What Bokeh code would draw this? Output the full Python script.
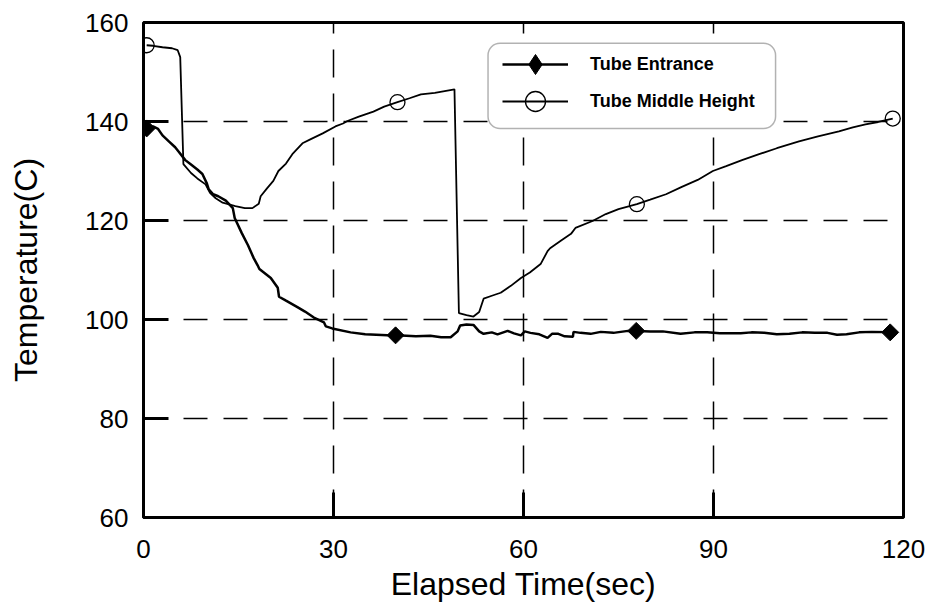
import numpy as np
from bokeh.plotting import figure
from bokeh.models import Legend, LegendItem, BoxAnnotation, Range1d, FixedTicker
from bokeh.embed import file_html
from bokeh.resources import INLINE

# ---------------- data ----------------
x_ticks = [0, 30, 60, 90, 120]
y_ticks = [60, 80, 100, 120, 140, 160]

entrance_t = [0.5, 1.5, 2.3, 3.0, 4.0, 5.0, 5.5, 6.6, 7.5, 8.5, 9.3, 10.0, 10.3, 11.0, 11.8,
              13.0, 14.1, 14.4, 15.5, 16.5, 17.4, 18.0, 18.3, 19.0, 20.1, 21.2, 21.4, 22.5,
              24.3, 25.5, 26.9, 28.5, 28.8, 29.8, 32.7, 35.0, 38.5, 40.0, 43.0, 45.3, 47.0,
              48.5, 49.6, 50.0, 51.0, 52.1, 53.0, 53.7, 55.0, 55.9, 57.5, 58.5, 59.6, 60.2,
              61.1, 62.5, 63.8, 64.5, 65.5, 66.5, 67.8, 67.9, 69.0, 70.6, 72.2, 74.2, 76.5,
              78.0, 80.0, 82.0, 84.8, 87.0, 89.0, 91.0, 94.3, 96.0, 98.0, 100.0, 102.0,
              104.0, 106.0, 108.0, 109.5, 111.0, 113.0, 115.0, 118.0]
entrance_T = [138.6, 139.0, 138.5, 137.2, 136.0, 134.8, 134.0, 132.2, 131.3, 130.3, 129.4, 127.5,
              126.3, 125.3, 124.9, 124.0, 122.5, 120.5, 117.5, 115.0, 112.4, 111.0, 110.2, 109.5,
              108.4, 106.4, 104.6, 103.8, 102.5, 101.6, 100.4, 99.4, 98.6, 98.2, 97.4, 97.0,
              96.8, 96.8, 96.6, 96.7, 96.4, 96.4, 97.6, 98.8, 99.0, 98.9, 97.6, 97.1, 97.4,
              97.0, 97.7, 97.2, 96.8, 97.6, 97.3, 97.0, 96.3, 97.1, 97.1, 96.6, 96.5, 97.5,
              97.3, 97.1, 97.5, 97.3, 97.7, 97.7, 97.6, 97.6, 97.1, 97.4, 97.4, 97.2, 97.2,
              97.4, 97.3, 97.0, 97.1, 97.4, 97.3, 97.3, 96.9, 97.0, 97.4, 97.5, 97.4]

middle_t = [0.5, 1.5, 3.0, 4.5, 5.4, 5.8, 6.3, 7.5, 8.5, 9.8, 10.5, 11.4, 12.5, 14.5, 16.0,
            17.2, 18.2, 18.5, 19.5, 20.5, 21.3, 22.5, 23.5, 25.1, 26.5, 28.3, 30.3, 31.5,
            32.2, 34.0, 36.3, 38.0, 40.1, 42.0, 43.8, 46.0, 49.1, 49.8, 51.0, 52.1, 53.0,
            53.7, 55.0, 56.4, 58.0, 59.6, 61.0, 62.7, 63.8, 64.2, 66.0, 67.5, 68.2, 70.9,
            73.0, 75.0, 77.9, 80.0, 82.5, 85.0, 87.5, 89.9, 92.0, 94.5, 97.2, 100.0, 103.5,
            106.5, 109.8, 112.0, 114.0, 116.0, 118.3]
middle_T = [155.4, 155.3, 155.0, 154.8, 154.4, 153.0, 131.4, 129.6, 128.5, 127.3, 125.6, 124.5,
            123.6, 122.9, 122.5, 122.5, 123.4, 124.9, 126.5, 128.0, 130.0, 131.5, 133.4, 135.6,
            136.5, 137.6, 139.0, 139.6, 140.1, 141.0, 142.0, 143.0, 143.9, 144.7, 145.5, 145.8,
            146.5, 101.3, 100.9, 100.6, 101.5, 104.2, 104.8, 105.4, 106.8, 108.4, 109.5, 111.2,
            113.8, 114.4, 116.0, 117.3, 118.5, 119.9, 121.3, 122.3, 123.3, 124.2, 125.3, 126.8,
            128.2, 130.0, 131.0, 132.2, 133.4, 134.6, 136.0, 137.0, 138.0, 138.8, 139.4, 139.9,
            140.6]

entrance_marker_t = [0.5, 39.8, 77.8, 117.9]
entrance_marker_T = [138.6, 96.8, 97.7, 97.4]
middle_marker_t = [0.5, 40.1, 77.9, 118.3]
middle_marker_T = [155.4, 143.9, 123.3, 140.6]

series_names = ["Tube Entrance", "Tube Middle Height"]
x_label = "Elapsed Time(sec)"
y_label = "Temperature(C)"

# ---------------- figure ----------------
FONT = "Liberation Sans"
p = figure(width=928, height=610, output_backend="svg", toolbar_location=None,
           x_range=Range1d(0, 120), y_range=Range1d(60, 160),
           min_border_left=143, min_border_right=25, min_border_top=22, min_border_bottom=93)
p.background_fill_color = "white"
p.border_fill_color = "white"
p.outline_line_color = "black"
p.outline_line_width = 3

r1 = p.line(entrance_t, entrance_T, line_color="black", line_width=2.5)
r1m = p.scatter(entrance_marker_t, entrance_marker_T, marker="square", angle=np.pi / 4, size=12,
                fill_color="black", line_color="black")
r2 = p.line(middle_t, middle_T, line_color="black", line_width=1.8)
r2m = p.scatter(middle_marker_t, middle_marker_T, marker="circle", size=15,
                fill_color=None, line_color="black", line_width=1.3)
# legend-only glyph (a single non-plotted point): a diamond, since legends ignore marker angles
leg_diamond = p.scatter([float("nan")], [float("nan")], marker="diamond",
                        fill_color="black", line_color="black")

for ax, ticks in ((p.xaxis[0], x_ticks), (p.yaxis[0], y_ticks)):
    ax.ticker = FixedTicker(ticks=ticks)
    ax.axis_line_color = None
    ax.major_tick_in = 25
    ax.major_tick_out = 0
    ax.major_tick_line_width = 3
    ax.major_tick_line_color = "black"
    ax.minor_tick_line_color = None
    ax.major_label_text_font = FONT
    ax.major_label_text_font_size = "26px"
    ax.major_label_text_color = "black"
    ax.axis_label_text_font = FONT
    ax.axis_label_text_font_size = "32px"
    ax.axis_label_text_font_style = "normal"
    ax.axis_label_text_color = "black"

p.xaxis.axis_label = x_label
p.yaxis.axis_label = y_label
p.xaxis.major_label_standoff = 22
p.xaxis.axis_label_standoff = 5
p.yaxis.major_label_standoff = 15
p.yaxis.axis_label_standoff = 38

p.xgrid.grid_line_color = "black"
p.xgrid.grid_line_width = 1.5
p.xgrid.grid_line_dash = "28 16"
p.ygrid.grid_line_color = "black"
p.ygrid.grid_line_width = 1.5
p.ygrid.grid_line_dash = "24 16"

# rounded legend frame
box = BoxAnnotation(left=54.4, right=99.8, bottom=138.6, top=155.8,
                    fill_color="white", fill_alpha=1.0, line_color="black", line_width=1.5,
                    border_radius=12)
p.add_layout(box)

common = dict(orientation="vertical", glyph_width=66, glyph_height=50, label_height=20,
              label_standoff=22, spacing=0, padding=0, margin=0,
              border_line_color=None, background_fill_alpha=0,
              label_text_font=FONT, label_text_font_style="bold",
              label_text_font_size="18px", label_text_color="black")
legend1 = Legend(items=[LegendItem(label=series_names[0], renderers=[r1, leg_diamond])],
                 location=(359, 428), **common)
legend2 = Legend(items=[LegendItem(label=series_names[1], renderers=[r2, r2m])],
                 location=(359, 391), **common)
p.add_layout(legend1)
p.add_layout(legend2)

open("out.html", "w").write(file_html(p, INLINE))
